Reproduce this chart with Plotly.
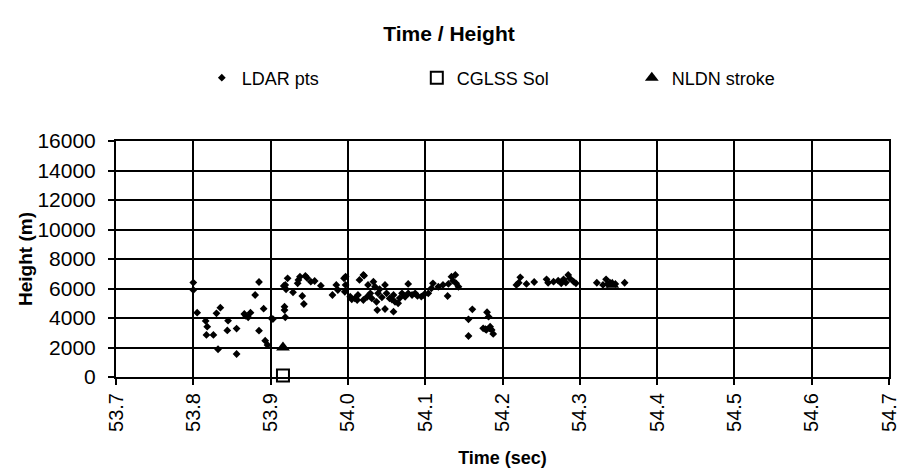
import plotly.graph_objects as go

# LDAR points: time (s), height (m)
ldar_t = [53.800, 53.800, 53.885, 53.880, 53.891, 53.835, 53.830, 53.805, 53.866, 53.871,
          53.874, 53.816, 53.818, 53.845, 53.844, 53.856, 53.817, 53.826, 53.885, 53.893,
          53.896, 53.832, 53.856, 53.901, 53.868,
          53.922, 53.919, 53.920, 53.917, 53.929, 53.936, 53.938, 53.935, 53.945, 53.947,
          53.952, 53.957, 53.965, 53.941, 53.943, 53.918, 53.918, 53.919, 53.903, 53.980,
          53.985, 53.987, 53.995, 53.997, 53.997, 53.996,
          54.003, 54.005, 54.009, 54.012, 54.013, 54.015, 54.020, 54.026, 54.021, 54.033,
          54.035, 54.029, 54.025, 54.020, 54.031, 54.037, 54.039, 54.041, 54.048, 54.050,
          54.054, 54.059, 54.061, 54.065, 54.038, 54.048, 54.059, 54.070, 54.078, 54.078,
          54.083, 54.087, 54.074, 54.044, 54.057, 54.067, 54.090, 54.095,
          54.098, 54.104, 54.108, 54.117, 54.123, 54.130, 54.129, 54.134, 54.136, 54.140,
          54.143, 54.139, 54.110, 54.161, 54.156, 54.180, 54.182, 54.175, 54.179, 54.184,
          54.186, 54.188, 54.156, 54.178, 54.183,
          54.218, 54.221, 54.223, 54.231, 54.241, 54.257, 54.259, 54.266, 54.272, 54.279,
          54.285, 54.287, 54.292, 54.295, 54.276, 54.282,
          54.322, 54.330, 54.334, 54.339, 54.346, 54.358, 54.336]
ldar_h = [6400, 5900, 6440, 5560, 4630, 4700, 4320, 4360, 4270, 4050,
          4360, 3800, 3410, 3820, 3160, 3280, 2850, 2850, 3140, 2460,
          2170, 1880, 1560, 3980, 4150,
          6690, 6240, 5950, 6170, 5740, 6580, 6800, 6350, 6850, 6730,
          6460, 6510, 6190, 5490, 4950, 4770, 4540, 4050, 3930, 5560,
          6240, 5900, 6690, 6800, 6240, 5780,
          5440, 5270, 5330, 5220, 5560, 6580, 6920, 6240, 6870, 6460,
          6120, 5670, 5440, 5220, 5330, 5100, 5670, 5950, 6240, 5670,
          5330, 5560, 5100, 5000, 4540, 4610, 4430, 5670, 6310, 5670,
          5560, 5670, 5440, 5400, 5250, 5350, 5500, 5450,
          5560, 5670, 6010, 6120, 6240, 6310, 5490, 6800, 6530, 6350,
          6120, 6920, 6350, 4590, 3910, 4390, 4090, 3300, 3190, 3410,
          3190, 2920, 2780, 3250, 3300,
          6240, 6390, 6760, 6310, 6440, 6620, 6390, 6460, 6530, 6620,
          6920, 6690, 6460, 6350, 6350, 6400,
          6390, 6240, 6620, 6390, 6310, 6390, 6300]

# CGLSS solution
cglss_t = [53.916]
cglss_h = [100]

# NLDN strokes
nldn_t = [53.916, 54.342]
nldn_h = [2000, 6250]

x_ticks = [53.7, 53.8, 53.9, 54.0, 54.1, 54.2, 54.3, 54.4, 54.5, 54.6, 54.7]
x_tick_labels = ["53.7", "53.8", "53.9", "54.0", "54.1", "54.2", "54.3", "54.4", "54.5", "54.6", "54.7"]
y_ticks = [0, 2000, 4000, 6000, 8000, 10000, 12000, 14000, 16000]
y_tick_labels = ["0", "2000", "4000", "6000", "8000", "10000", "12000", "14000", "16000"]

FONT = "Liberation Sans, Arial, sans-serif"

fig = go.Figure()
fig.add_trace(go.Scatter(x=ldar_t, y=ldar_h, mode="markers", name="LDAR pts",
                         marker=dict(symbol="diamond", size=6, color="black")))
fig.add_trace(go.Scatter(x=cglss_t, y=cglss_h, mode="markers", name="CGLSS Sol",
                         marker=dict(symbol="square", size=12, color="white",
                                     line=dict(color="black", width=2)),
                         cliponaxis=False))
fig.add_trace(go.Scatter(x=nldn_t, y=nldn_h, mode="markers", name="NLDN stroke",
                         marker=dict(symbol="triangle-up", size=12, color="black")))

fig.update_layout(
    width=898, height=471,
    margin=dict(l=116, r=9, t=141, b=94),
    paper_bgcolor="white", plot_bgcolor="white",
    font=dict(family=FONT, color="black", size=20),
    title=dict(text="<b>Time / Height</b>", x=0.5, xanchor="center",
               y=1 - 34 / 471, yanchor="middle",
               font=dict(family=FONT, size=21, color="black")),
    legend=dict(orientation="h", x=0.111, xanchor="left", y=1.267, yanchor="middle",
                font=dict(family=FONT, size=18, color="black"),
                entrywidth=170, entrywidthmode="pixels",
                bgcolor="rgba(0,0,0,0)"),
    showlegend=True,
)

fig.update_xaxes(
    range=[53.7, 54.7], tickvals=x_ticks, ticktext=x_tick_labels, tickangle=-90,
    showgrid=True, gridcolor="black", gridwidth=2,
    showline=True, linecolor="black", linewidth=2, mirror=True,
    ticks="outside", ticklen=6, tickwidth=2, tickcolor="black",
    tickfont=dict(family=FONT, size=20, color="black"),
    ticklabeloverflow="allow",
    zeroline=False, automargin=False,
    title=dict(text="<b>Time (sec)</b>", font=dict(family=FONT, size=18, color="black"), standoff=20),
)
fig.update_yaxes(
    range=[0, 16000], tickvals=y_ticks, ticktext=y_tick_labels,
    showgrid=True, gridcolor="black", gridwidth=2,
    showline=True, linecolor="black", linewidth=2, mirror=True,
    ticks="outside", ticklen=6, tickwidth=2, tickcolor="black",
    tickfont=dict(family=FONT, size=21, color="black"),
    ticklabelstandoff=8, ticklabeloverflow="allow",
    zeroline=False, automargin=False,
    title=dict(text="<b>Height (m)</b>", font=dict(family=FONT, size=19, color="black"), standoff=0),
)

fig.write_html("out.html")
